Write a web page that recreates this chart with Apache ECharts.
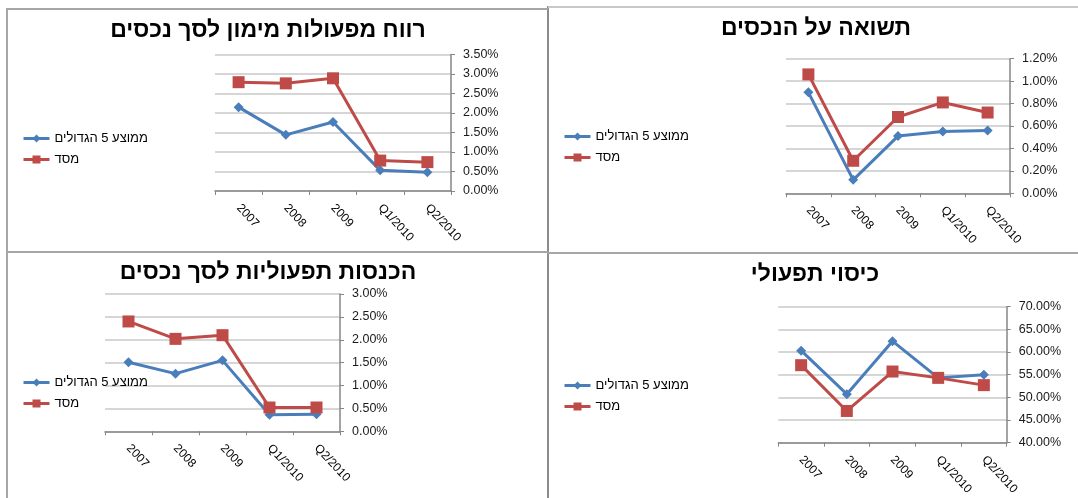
<!DOCTYPE html>
<html>
<head>
<meta charset="utf-8">
<script src="https://cdn.jsdelivr.net/npm/echarts@6/dist/echarts.min.js"></script>
<style>
html,body{margin:0;padding:0;background:#fff;width:1078px;height:498px;overflow:hidden;position:relative;}
.c{position:absolute;}
.ln{position:absolute;background:#a6a6a6;}
</style>
</head>
<body>
<div class="ln" style="left:6px;top:8px;width:2px;height:490px;"></div>
<div class="ln" style="left:547px;top:6px;width:2px;height:492px;background:#8c8c8c;"></div>
<div class="ln" style="left:6px;top:8px;width:542px;height:2px;"></div>
<div class="ln" style="left:548px;top:6px;width:530px;height:2px;background:#c8c8c8;"></div>
<div class="ln" style="left:6px;top:251px;width:542px;height:2px;"></div>
<div class="ln" style="left:548px;top:252px;width:530px;height:2px;"></div>
<div id="p1" class="c" style="left:7px;top:9px;width:541px;height:243px;"></div>
<div id="p2" class="c" style="left:548px;top:7px;width:530px;height:246px;"></div>
<div id="p3" class="c" style="left:7px;top:252px;width:541px;height:246px;"></div>
<div id="p4" class="c" style="left:548px;top:253px;width:530px;height:245px;"></div>
<script>
// ---- data ----
var categories = ['2007', '2008', '2009', 'Q1/2010', 'Q2/2010'];
var seriesNames = ['ממוצע 5 הגדולים', 'מסד'];

var title1 = 'רווח מפעולות מימון לסך נכסים';
var avg5Finance = [2.15, 1.44, 1.77, 0.53, 0.48];
var masadFinance = [2.79, 2.76, 2.89, 0.78, 0.74];

var title2 = 'תשואה על הנכסים';
var avg5Roa = [0.90, 0.12, 0.51, 0.55, 0.56];
var masadRoa = [1.06, 0.29, 0.68, 0.81, 0.72];

var title3 = 'הכנסות תפעוליות לסך נכסים';
var avg5OpIncome = [1.51, 1.26, 1.55, 0.36, 0.37];
var masadOpIncome = [2.40, 2.02, 2.10, 0.52, 0.52];

var title4 = 'כיסוי תפעולי';
var avg5Coverage = [60.3, 50.7, 62.4, 54.3, 55.0];
var masadCoverage = [57.1, 47.0, 55.7, 54.3, 52.7];

var yTicks1 = [0, 3.5, 0.5];
var yTicks2 = [0, 1.2, 0.2];
var yTicks3 = [0, 3.0, 0.5];
var yTicks4 = [40, 70, 5];

// ---- style ----
var FONT = "'Liberation Sans', Arial, sans-serif";
var BLUE = '#4a7ebb';
var RED = '#be4b48';

function makeChart(id, title, titleX, titleTop, grid, legendTop, ticks, avg, masad) {
  var chart = echarts.init(document.getElementById(id), null, {renderer: 'canvas'});
  chart.setOption({
    animation: false,
    backgroundColor: 'transparent',
    title: {
      text: title,
      left: titleX,
      top: titleTop,
      textAlign: 'center',
      padding: 0,
      textStyle: {fontFamily: FONT, fontSize: 23, fontWeight: 'bold', color: '#000'}
    },
    legend: {
      orient: 'vertical',
      left: 15,
      top: legendTop,
      itemWidth: 26,
      itemHeight: 10,
      itemGap: 8,
      padding: 0,
      selectedMode: false,
      data: seriesNames,
      lineStyle: {width: 3},
      textStyle: {fontFamily: FONT, fontSize: 13, color: '#000'}
    },
    grid: {left: grid[0], top: grid[1], width: grid[2], height: grid[3], containLabel: false},
    xAxis: {
      type: 'category',
      data: categories,
      boundaryGap: true,
      axisLine: {lineStyle: {color: '#868686', width: 1.5}},
      axisTick: {show: true, length: 4, lineStyle: {color: '#868686', width: 1}},
      axisLabel: {rotate: -47, margin: 15, fontFamily: FONT, fontSize: 12, color: '#000', interval: 0},
      splitLine: {show: false}
    },
    yAxis: {
      type: 'value',
      position: 'right',
      min: ticks[0],
      max: ticks[1],
      interval: ticks[2],
      axisLine: {show: true, lineStyle: {color: '#868686', width: 1.5}},
      axisTick: {show: true, length: 4, lineStyle: {color: '#868686'}},
      axisLabel: {margin: 12, fontFamily: FONT, fontSize: 12.5, color: '#1a1a1a',
        formatter: function (v) { return v.toFixed(2) + '%'; }},
      splitLine: {show: true, lineStyle: {color: '#c8c8c8', width: 1.5}}
    },
    series: [
      {name: seriesNames[0], type: 'line', data: avg, symbol: 'diamond', symbolSize: 10,
        lineStyle: {color: BLUE, width: 3}, itemStyle: {color: BLUE}, emphasis: {disabled: true}},
      {name: seriesNames[1], type: 'line', data: masad, symbol: 'rect', symbolSize: 12,
        lineStyle: {color: RED, width: 3}, itemStyle: {color: RED}, emphasis: {disabled: true}}
    ]
  });
}

makeChart('p1', title1, 261, 10, [208, 45.5, 236, 136.5], 123, yTicks1, avg5Finance, masadFinance);
makeChart('p2', title2, 268, 10, [238, 51.7, 224, 134.6], 123, yTicks2, avg5Roa, masadRoa);
makeChart('p3', title3, 261, 9, [98, 42, 235, 137.3], 124, yTicks3, avg5OpIncome, masadOpIncome);
makeChart('p4', title4, 267, 10, [230.3, 53.7, 228.4, 136], 126, yTicks4, avg5Coverage, masadCoverage);
</script>
</body>
</html>
